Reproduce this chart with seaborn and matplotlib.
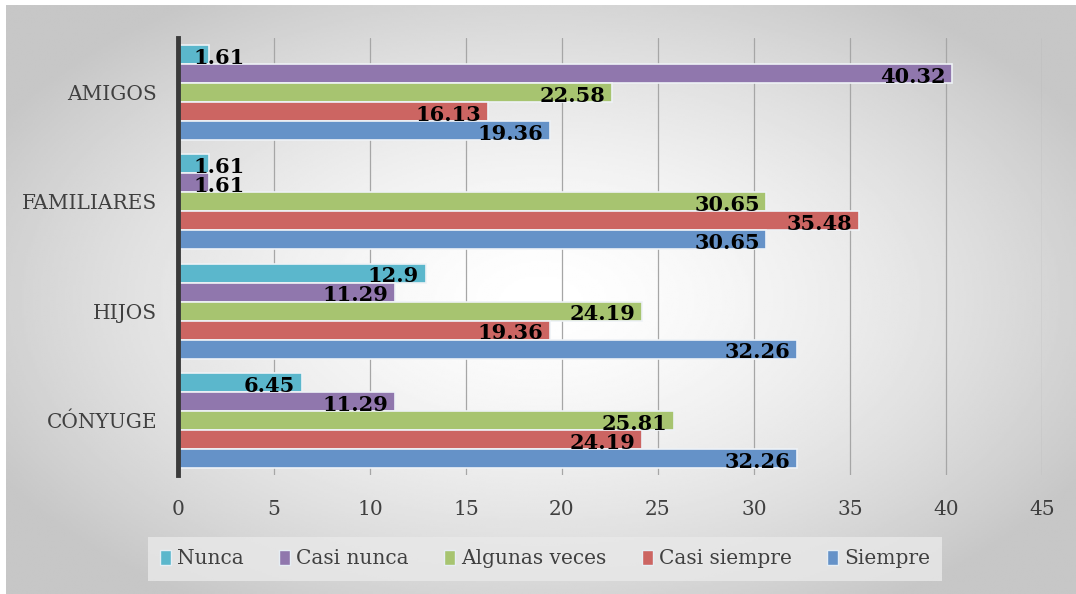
import numpy as np
import pandas as pd
import seaborn as sns
import matplotlib.pyplot as plt

# data
categories = ['AMIGOS', 'FAMILIARES', 'HIJOS', 'CÓNYUGE']
levels = ['Nunca', 'Casi nunca', 'Algunas veces', 'Casi siempre', 'Siempre']
nunca = [1.61, 1.61, 12.9, 6.45]
casi_nunca = [40.32, 1.61, 11.29, 11.29]
algunas_veces = [22.58, 30.65, 24.19, 25.81]
casi_siempre = [16.13, 35.48, 19.36, 24.19]
siempre = [19.36, 30.65, 32.26, 32.26]
label_text = {
    'Nunca': ['1.61', '1.61', '12.9', '6.45'],
    'Casi nunca': ['40.32', '1.61', '11.29', '11.29'],
    'Algunas veces': ['22.58', '30.65', '24.19', '25.81'],
    'Casi siempre': ['16.13', '35.48', '19.36', '24.19'],
    'Siempre': ['19.36', '30.65', '32.26', '32.26'],
}
colors = ['#5bb7cc', '#9077ad', '#a7c470', '#cc6562', '#6592c8']

series = [nunca, casi_nunca, algunas_veces, casi_siempre, siempre]
df = pd.DataFrame([
    {'Grupo': c, 'Respuesta': lv, 'Valor': vals[i]}
    for lv, vals in zip(levels, series)
    for i, c in enumerate(categories)
])

sns.set_style('white')
plt.rcParams['font.family'] = ['DejaVu Serif']

fig = plt.figure(figsize=(10.76, 5.94), dpi=100)

# gradient background
bg = fig.add_axes([6 / 1076, 0, 1070 / 1076, 589 / 594], zorder=-10)
yy, xx = np.mgrid[-1:1:300j, -1:1:500j]
r = np.sqrt((xx * 0.95) ** 2 + (yy * 0.9) ** 2)
shade = 1 - 0.19 * np.clip(r, 0, 1.1) ** 1.5
bg.imshow(shade, cmap='gray', vmin=0, vmax=1, aspect='auto', extent=[0, 1, 0, 1])
bg.set_xticks([])
bg.set_yticks([])
for s in bg.spines.values():
    s.set_visible(False)

ax = fig.add_axes([178 / 1076, 1 - 475 / 594, (1042 - 178) / 1076, (475 - 38) / 594])
ax.set_facecolor('none')
sns.barplot(data=df, y='Grupo', x='Valor', hue='Respuesta', order=categories,
            hue_order=levels, palette=colors, orient='h', width=0.87, ax=ax,
            edgecolor='#eef2f6', linewidth=1.2, saturation=1, legend=False, zorder=3)

for lv, cont in zip(levels, ax.containers):
    for txt, bar in zip(label_text[lv], cont.patches):
        w = bar.get_width()
        yc = bar.get_y() + bar.get_height() / 2 + 0.03
        if w < 5:
            ax.text(0.8, yc, txt, ha='left', va='center', fontsize=15,
                    fontweight='bold', color='black', zorder=5)
        else:
            ax.text(w - 0.35, yc, txt, ha='right', va='center', fontsize=15,
                    fontweight='bold', color='black', zorder=5)

ax.set_xlim(0, 45)
ax.set_ylim(3.5, -0.5)
ax.set_xticks(range(0, 46, 5))
ax.grid(axis='x', color='#a6a6a6', linewidth=0.9, zorder=0)
ax.grid(axis='y', visible=False)
ax.set_axisbelow(True)
for s in ['top', 'right', 'bottom']:
    ax.spines[s].set_visible(False)
ax.spines['left'].set_color('#3a3a3a')
ax.spines['left'].set_linewidth(3.5)
ax.spines['left'].set_zorder(6)
ax.tick_params(axis='x', length=0, pad=18, labelsize=14.5, labelcolor='#404040')
ax.tick_params(axis='y', length=0, pad=15, labelsize=14.5, labelcolor='#404040')
ax.set_xlabel('')
ax.set_ylabel('')

handles = [plt.Rectangle((0, 0), 1, 1, facecolor=c, edgecolor='#e6eef4', linewidth=1) for c in colors]
leg = fig.legend(handles, levels, loc='center', bbox_to_anchor=(545 / 1076, 1 - 559 / 594),
                 ncol=5, frameon=True, fancybox=False, fontsize=14.5,
                 handlelength=0.55, handleheight=0.75, handletextpad=0.3, columnspacing=1.75,
                 borderpad=0.6, labelcolor='#404040')
leg.get_frame().set_facecolor('#e9e9e9')
leg.get_frame().set_edgecolor('none')

fig.savefig('out.png', dpi=100)
